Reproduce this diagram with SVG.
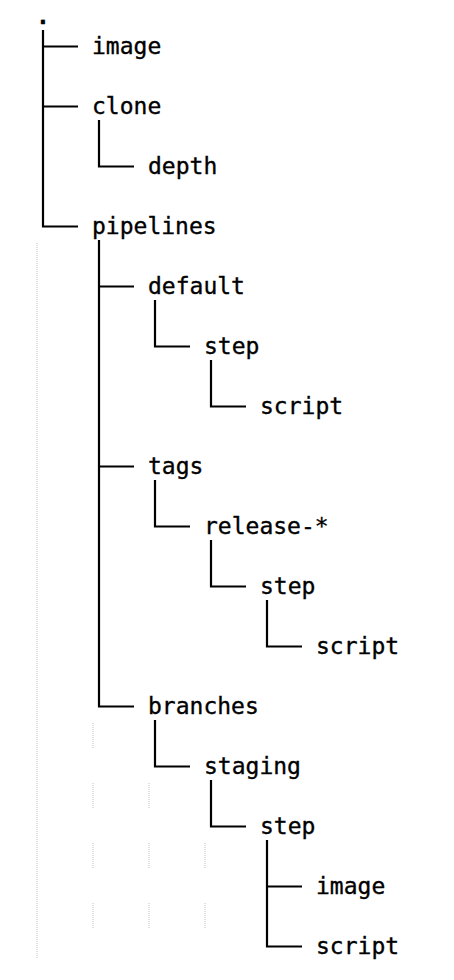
<svg xmlns="http://www.w3.org/2000/svg" width="454" height="980" viewBox="0 0 454 980">
<style>
  .t { font-family: "DejaVu Sans Mono", "Liberation Mono", monospace; font-size: 23px; fill: #000; stroke: #000; stroke-width: 0.35; }
  .c { stroke: #000; stroke-width: 2.2; fill: none; stroke-linecap: butt; }
  .g { stroke: #d6d6d6; stroke-width: 1.5; stroke-dasharray: 1 1; fill: none; }
</style>
<rect width="454" height="980" fill="#fff"/>
<g id="guides">
  <line class="g" x1="37" y1="243" x2="37" y2="958"/>
  <line class="g" x1="93" y1="723" x2="93" y2="748"/>
  <line class="g" x1="93" y1="783" x2="93" y2="808"/>
  <line class="g" x1="93" y1="843" x2="93" y2="868"/>
  <line class="g" x1="93" y1="903" x2="93" y2="928"/>
  <line class="g" x1="149" y1="783" x2="149" y2="808"/>
  <line class="g" x1="149" y1="843" x2="149" y2="868"/>
  <line class="g" x1="149" y1="903" x2="149" y2="928"/>
  <line class="g" x1="205" y1="843" x2="205" y2="868"/>
  <line class="g" x1="205" y1="903" x2="205" y2="928"/>
</g>
<g id="connectors">
  <path class="c" d="M43 30 V227.6 M43 46.5 H78 M43 106.5 H78 M43 226.5 H78"/>
  <path class="c" d="M99 120 V167.6 M99 166.5 H134"/>
  <path class="c" d="M99 240 V707.6 M99 286.5 H134 M99 466.5 H134 M99 706.5 H134"/>
  <path class="c" d="M155 300 V347.6 M155 346.5 H190"/>
  <path class="c" d="M211 360 V407.6 M211 406.5 H246"/>
  <path class="c" d="M155 480 V527.6 M155 526.5 H190"/>
  <path class="c" d="M211 540 V587.6 M211 586.5 H246"/>
  <path class="c" d="M267 600 V647.6 M267 646.5 H302"/>
  <path class="c" d="M155 720 V767.6 M155 766.5 H190"/>
  <path class="c" d="M211 780 V827.6 M211 826.5 H246"/>
  <path class="c" d="M267 840 V947.6 M267 886.5 H302 M267 946.5 H302"/>
</g>
<g id="root"><text class="t" x="36" y="24" font-weight="bold">.</text></g>
<g id="n-image"><text class="t" x="92" y="54">image</text></g>
<g id="n-clone"><text class="t" x="92" y="114">clone</text></g>
<g id="n-depth"><text class="t" x="148" y="174">depth</text></g>
<g id="n-pipelines"><text class="t" x="92" y="234">pipelines</text></g>
<g id="n-default"><text class="t" x="148" y="294">default</text></g>
<g id="n-default-step"><text class="t" x="204" y="354">step</text></g>
<g id="n-default-script"><text class="t" x="260" y="414">script</text></g>
<g id="n-tags"><text class="t" x="148" y="474">tags</text></g>
<g id="n-release"><text class="t" x="204" y="534">release-*</text></g>
<g id="n-release-step"><text class="t" x="260" y="594">step</text></g>
<g id="n-release-script"><text class="t" x="316" y="654">script</text></g>
<g id="n-branches"><text class="t" x="148" y="714">branches</text></g>
<g id="n-staging"><text class="t" x="204" y="774">staging</text></g>
<g id="n-staging-step"><text class="t" x="260" y="834">step</text></g>
<g id="n-staging-image"><text class="t" x="316" y="894">image</text></g>
<g id="n-staging-script"><text class="t" x="316" y="954">script</text></g>
</svg>
